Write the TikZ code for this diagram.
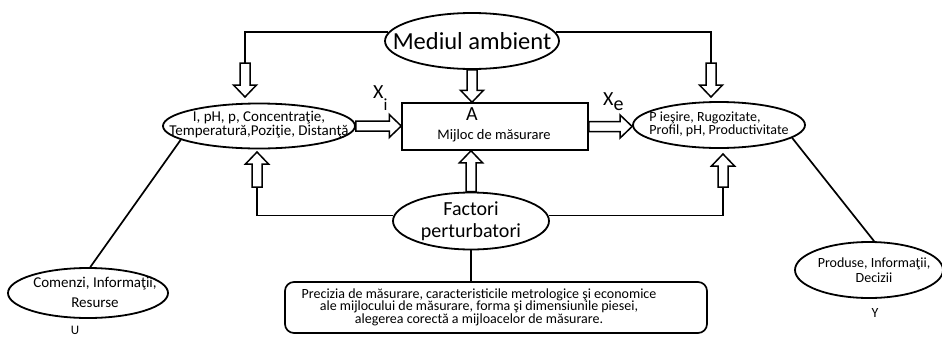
\documentclass[tikz,border=0pt]{standalone}
\usepackage{fontspec}
\setmainfont{Carlito}
\usetikzlibrary{shapes.geometric,calc}

\newcommand{\hollowarrow}[2]{%
  \draw[line width=1.5pt,fill=white]
    let \p1=(#1), \p2=(#2),
        \n1={atan2(\y2-\y1,\x2-\x1)},
        \n2={veclen(\x2-\x1,\y2-\y1)} in
    {[shift={(\p1)},rotate=\n1]
    (0pt,-5pt) -- (\n2-12pt,-5pt) -- (\n2-12pt,-11.5pt) -- (\n2+0pt,0pt)
    -- (\n2-12pt,11.5pt) -- (\n2-12pt,5pt) -- (0pt,5pt) -- cycle};}

\begin{document}
\begin{tikzpicture}[x=1pt,y=-1pt,
  ell/.style={ellipse,draw,line width=1.8pt,inner sep=0pt},
  txt/.style={align=center,inner sep=0pt},
  conn/.style={line width=1.7pt}]
\useasboundingbox (0,0) rectangle (942,338);

\node[ell,minimum width=174pt,minimum height=56pt,
  label={[txt,font=\fontsize{24.5}{26}\selectfont]center:Mediul ambient}] (mediu) at (472,41) {};
\node[ell,minimum width=192pt,minimum height=45pt,
  label={[txt,font=\fontsize{15}{11.5}\selectfont,yshift=1pt]center:{I, pH, p, Concentraţie,\\Temperatură,Poziţie, Distanţă}}] (intrari) at (259,126) {};
\node[ell,minimum width=172pt,minimum height=46pt,
  label={[txt,align=left,font=\fontsize{14}{11.5}\selectfont,yshift=1pt]center:{P ieşire, Rugozitate,\\Profil, pH, Productivitate}}] (iesiri) at (719,125) {};
\node[ell,minimum width=156pt,minimum height=57pt,
  label={[txt,font=\fontsize{20}{22}\selectfont]center:{Factori\\perturbatori}}] (factori) at (471,221) {};
\node[ell,minimum width=160pt,minimum height=50pt,
  label={[txt,font=\fontsize{15}{20}\selectfont,xshift=7pt,yshift=1pt]center:{Comenzi, Informaţii,\\Resurse}}] (comenzi) at (88,293) {};
\node[ell,minimum width=148pt,minimum height=56pt,
  label={[txt,font=\fontsize{14}{15}\selectfont,xshift=5pt]center:{Produse, Informaţii,\\Decizii}}] (produse) at (869,270) {};

\node[draw,line width=1.5pt,minimum width=186pt,minimum height=47pt] (mijloc) at (495,126.5) {};
\node[font=\fontsize{20}{20}\selectfont] (A) at (472,114) {A};
\node[font=\fontsize{14.5}{15}\selectfont] (mijloctext) at (494,136) {Mijloc de măsurare};

\node[draw,line width=1.7pt,rounded corners=9pt,minimum width=422pt,minimum height=51pt] (nota) at (496,307.5) {};
\node[txt,font=\fontsize{14}{12.5}\selectfont] (notatext) at (479,307) {Precizia de măsurare, caracteristicile metrologice şi economice\\ale mijlocului de măsurare, forma şi dimensiunile piesei,\\alegerea corectă a mijloacelor de măsurare.};

\node[anchor=base west,inner sep=0pt,font=\fontsize{20}{20}\selectfont] (xi) at (373,98) {X\raisebox{-12pt}{\fontsize{17}{17}\selectfont i}};
\node[anchor=base west,inner sep=0pt,font=\fontsize{20}{20}\selectfont] (xe) at (603,105) {X\raisebox{-5pt}{e}};
\node[font=\fontsize{13}{13}\selectfont] (U) at (75,330) {U};
\node[font=\fontsize{14}{14}\selectfont] (Y) at (875,313) {Y};

\coordinate (mL) at (245,63);
\coordinate (mLtip) at (245,97);
\coordinate (mR) at (711,63);
\coordinate (mRtip) at (711,97);
\coordinate (fL) at (257,187);
\coordinate (fLtip) at (257,152);
\coordinate (fR) at (723,187);
\coordinate (fRtip) at (723,154);

\draw[conn] (mediu.174) -| (mL);
\draw[conn] (mediu.6) -| (mR);
\draw[conn] (factori.176) -| (fL);
\draw[conn] (factori.4) -| (fR);
\draw[conn] (factori.south) -- (factori.south |- nota.north);
\draw[conn] (intrari.190) -- (comenzi.85);
\draw[conn] (iesiri.350) -- (produse.80);

\hollowarrow{mL}{mLtip}
\hollowarrow{mR}{mRtip}
\hollowarrow{mediu.south}{mediu.south |- mijloc.north}
\hollowarrow{intrari.east}{mijloc.west |- intrari.east}
\hollowarrow{mijloc.east}{iesiri.west |- mijloc.east}
\hollowarrow{factori.north}{factori.north |- mijloc.south}
\hollowarrow{fL}{fLtip}
\hollowarrow{fR}{fRtip}
\end{tikzpicture}
\end{document}
